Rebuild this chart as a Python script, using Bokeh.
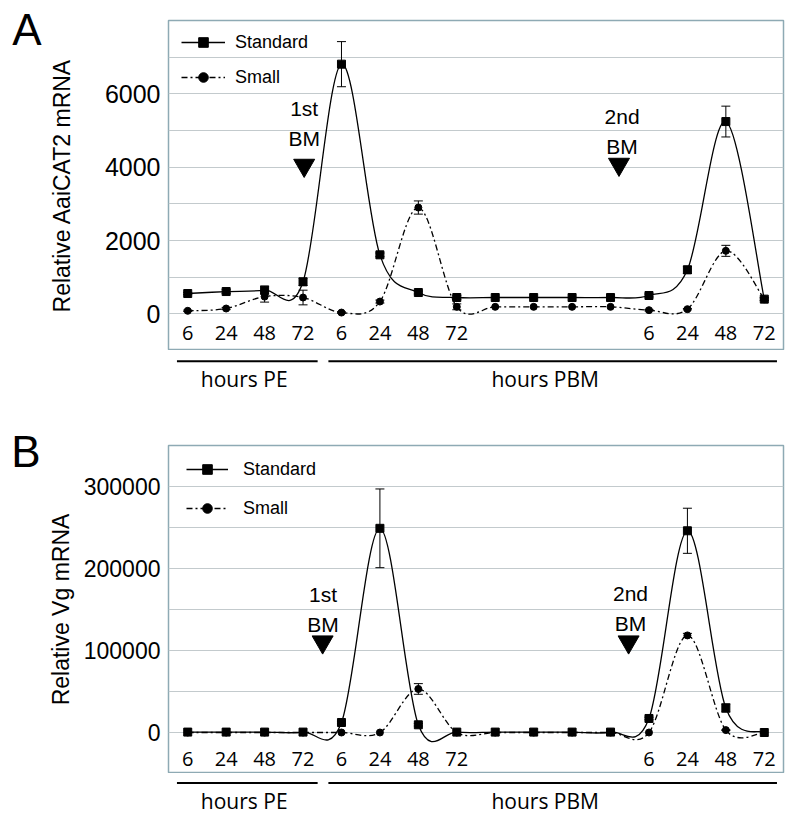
import numpy as np
from bokeh.plotting import figure
from bokeh.models import (Range1d, FixedTicker, BasicTickFormatter, LinearAxis,
                          Legend, LegendItem, ColumnDataSource)
from bokeh.layouts import column
from bokeh.core.properties import value
from bokeh.embed import file_html
from bokeh.resources import INLINE

# ---------------- data ----------------
x_idx = list(range(16))
x_tick_labels = ["6", "24", "48", "72", "6", "24", "48", "72",
                 "", "", "", "", "6", "24", "48", "72"]
group_labels = ["hours PE", "hours PBM"]
group_x = [1.47, 9.3]
group_start = [-0.28, 3.66]
group_end = [3.38, 15.33]
bm_labels = ["1st\nBM", "2nd\nBM"]

# Panel A: Relative AaiCAT2 mRNA
a_std = [554, 608, 646, 873, 6809, 1609, 581, 445, 445, 445, 445, 445, 500, 1200, 5244, 401]
a_std_err = [30, 50, 110, 100, 615, 50, 40, 50, 0, 0, 0, 0, 40, 100, 420, 40]
a_small = [82, 145, 470, 445, 35, 335, 2899, 191, 191, 191, 191, 191, 100, 127, 1718, 401]
a_small_err = [20, 30, 150, 200, 20, 40, 180, 80, 0, 0, 0, 0, 20, 20, 150, 30]

# Panel B: Relative Vg mRNA
b_std = [500, 500, 500, 500, 12200, 249000, 9400, 500, 500, 500, 500, 500, 17100, 246000, 29900, 0]
b_std_err = [0, 0, 0, 0, 1500, 48000, 1500, 0, 0, 0, 0, 0, 1500, 27500, 5000, 0]
b_small = [0, 0, 0, 0, 0, 0, 53100, 0, 0, 0, 0, 0, 0, 118400, 2900, 0]
b_small_err = [0, 0, 0, 0, 0, 0, 6500, 0, 0, 0, 0, 0, 0, 2500, 500, 0]

FRAME_COLOR = "#8eaab4"
GRID_COLOR = "#c3cacd"
SANS = "Liberation Sans"
HUMAN = "Open Sans"


def bezier_source(xs, ys):
    n = len(xs)
    d = dict(x0=[], y0=[], x1=[], y1=[], cx0=[], cy0=[], cx1=[], cy1=[])
    for i in range(n - 1):
        a = i - 1 if i > 0 else i
        b = i + 2 if i + 2 < n else i + 1
        d["x0"].append(xs[i]); d["y0"].append(ys[i])
        d["x1"].append(xs[i + 1]); d["y1"].append(ys[i + 1])
        d["cx0"].append(xs[i] + (xs[i + 1] - xs[a]) / 6.0)
        d["cy0"].append(ys[i] + (ys[i + 1] - ys[a]) / 6.0)
        d["cx1"].append(xs[i + 1] - (xs[b] - xs[i]) / 6.0)
        d["cy1"].append(ys[i + 1] - (ys[b] - ys[i]) / 6.0)
    return ColumnDataSource(d)


def add_series(p, ys, errs, marker, msize, dash):
    src = bezier_source(x_idx, ys)
    p.bezier(x0="x0", y0="y0", x1="x1", y1="y1", cx0="cx0", cy0="cy0",
             cx1="cx1", cy1="cy1", source=src, line_color="black",
             line_width=1.3, line_dash=dash)
    ex = [x for x, e in zip(x_idx, errs) if e > 0]
    lo = [y - e for y, e in zip(ys, errs) if e > 0]
    hi = [y + e for y, e in zip(ys, errs) if e > 0]
    p.segment(x0=ex, y0=lo, x1=ex, y1=hi, line_color="black", line_width=1)
    p.scatter(x=ex + ex, y=lo + hi, marker="dash", size=9, line_color="black",
              line_width=1)
    sc = p.scatter(x=x_idx, y=ys, marker=marker, size=msize, fill_color="black",
                   line_color="black")
    leg_line = p.line(x=[np.nan], y=[np.nan], line_color="black", line_width=1.3,
                      line_dash=dash)
    return [leg_line, sc]


def make_panel(ymin, ymax, major, grid, ylabel, tick_size, bl, bt, height,
               data, bm_x, bm_y, bm_tx, bm_ty, xlab_y,
               letter, letter_y, letter_standoff, leg_loc, leg_spacing, leg_gw,
               leg_standoff, title_standoff):
    p = figure(width=800, height=height, x_range=Range1d(-0.5, 15.5),
               y_range=Range1d(ymin, ymax), output_backend="svg",
               toolbar_location=None, x_axis_location=None,
               min_border_left=bl, min_border_right=17, min_border_top=bt,
               min_border_bottom=0)
    p.outline_line_color = FRAME_COLOR
    p.outline_line_width = 1.5
    p.background_fill_color = "white"
    p.border_fill_color = "white"
    p.xgrid.visible = False
    p.ygrid.ticker = FixedTicker(ticks=grid)
    p.ygrid.grid_line_color = GRID_COLOR
    p.ygrid.grid_line_width = 1
    ax = p.yaxis[0]
    ax.ticker = FixedTicker(ticks=major)
    ax.formatter = BasicTickFormatter(use_scientific=False)
    ax.axis_line_color = None
    ax.major_tick_line_color = None
    ax.minor_tick_line_color = None
    ax.major_label_standoff = 2
    ax.major_label_text_font = SANS
    ax.major_label_text_font_size = tick_size
    ax.major_label_text_color = "black"
    ax.axis_label = ylabel
    ax.axis_label_text_font = SANS
    ax.axis_label_text_font_size = "23px"
    ax.axis_label_text_font_style = "normal"
    ax.axis_label_text_color = "black"
    ax.axis_label_standoff = title_standoff

    # panel letter, carried by an outer left axis with a single tick
    lax = LinearAxis(ticker=FixedTicker(ticks=[letter_y]),
                     major_label_overrides={letter_y: letter},
                     axis_line_color=None, major_tick_line_color=None,
                     minor_tick_line_color=None,
                     major_label_standoff=letter_standoff,
                     major_label_text_font=SANS,
                     major_label_text_font_size="44px",
                     major_label_text_color="black")
    p.add_layout(lax, "left")

    (s_std, s_std_err, s_small, s_small_err) = data
    r_std = add_series(p, s_std, s_std_err, "square", 8, "solid")
    r_small = add_series(p, s_small, s_small_err, "circle", 7, "6 3 2 3")

    # x tick labels inside the frame
    p.text(x=x_idx, y=[xlab_y] * len(x_idx), text=x_tick_labels,
           text_font=value(HUMAN), text_font_size="20px", text_align="center",
           text_baseline="middle", text_color="black")

    # blood meal markers
    p.scatter(x=bm_x, y=bm_y, marker="inverted_triangle", size=21,
              fill_color="black", line_color="black")
    p.text(x=bm_tx, y=bm_ty, text=bm_labels, text_font=value(SANS),
           text_font_size="21px", text_align="center", text_baseline="middle",
           text_line_height=1.3, text_color="black")

    legend = Legend(items=[LegendItem(label="Standard", renderers=r_std),
                           LegendItem(label="Small", renderers=r_small)],
                    location=leg_loc, padding=0, margin=0, spacing=leg_spacing,
                    glyph_width=leg_gw, glyph_height=24, label_height=24,
                    label_standoff=leg_standoff, border_line_color=None,
                    background_fill_alpha=0, label_text_font=SANS,
                    label_text_font_size="18px", label_text_color="black")
    p.add_layout(legend)
    return p


def make_strip(x_range, bl, height, line_off, text_off):
    # strip beneath a panel: group bars and "hours" labels (y = px from top)
    s = figure(width=800, height=height, x_range=x_range,
               y_range=Range1d(height, 0), output_backend="svg",
               toolbar_location=None, x_axis_location=None,
               y_axis_location=None, min_border_left=bl, min_border_right=17,
               min_border_top=0, min_border_bottom=0)
    s.outline_line_color = None
    s.xgrid.visible = False
    s.ygrid.visible = False
    s.segment(x0=group_start, y0=[line_off] * 2, x1=group_end,
              y1=[line_off] * 2, line_color="black", line_width=2)
    s.text(x=group_x, y=[text_off] * 2, text=group_labels,
           text_font=value(HUMAN), text_font_size="21px", text_align="center",
           text_baseline="middle", text_color="black")
    return s


pA = make_panel(-1000, 8000, [0, 2000, 4000, 6000],
                list(range(0, 8000, 1000)), "Relative AaiCAT2 mRNA", "25px",
                165, 20, 350,
                (a_std, a_std_err, a_small, a_small_err),
                [3.03, 11.22], [4050, 4077], [3.03, 11.3], [5200, 4984],
                -510, "A", 7745, -2, (13, 261), 11, 44, 10, 27)
sA = make_strip(pA.x_range, 165, 63, 10.7, 28.5)

pB = make_panel(-50000, 350000, [0, 100000, 200000, 300000],
                list(range(0, 350000, 50000)), "Relative Vg mRNA", "23px",
                168, 32, 360,
                (b_std, b_std_err, b_small, b_small_err),
                [3.51, 11.47], [110400, 110400], [3.52, 11.52], [150200, 151100],
                -32600, "B", 342900, -2, (18, 253), 15, 42, 15, 7)
sB = make_strip(pB.x_range, 168, 53, 9.5, 27)

layout = column(pA, sA, pB, sB, spacing=0)
open("out.html", "w").write(file_html(layout, INLINE))
